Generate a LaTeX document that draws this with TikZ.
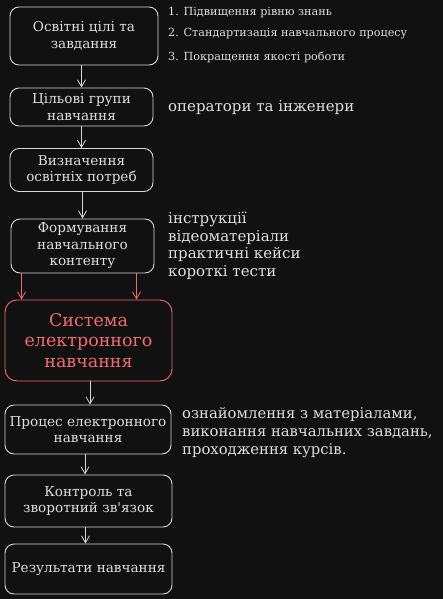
\documentclass[tikz,border=0pt]{standalone}
\usepackage{fontspec}
\setmainfont{DejaVu Serif}
\usetikzlibrary{arrows.meta}
\definecolor{bgdark}{RGB}{17,17,17}
\definecolor{fgline}{RGB}{215,215,215}
\definecolor{fgtext}{RGB}{222,222,222}
\definecolor{sysred}{RGB}{240,108,108}

\tikzset{
  stagebox/.style={draw=fgline, rounded corners=9pt, text=fgtext, align=center,
    line width=0.9pt, inner sep=0pt, font=\fontsize{13.6}{16.5}\selectfont},
  flowarrow/.style={draw=fgline, line width=0.8pt,
    -{Straight Barb[length=7pt,width=8pt]}},
  sidenote/.style={text=fgtext, anchor=west, align=left, inner sep=0pt},
}

\begin{document}
\begin{tikzpicture}[x=1pt, y=-1pt]
  \useasboundingbox (0,0) rectangle (443,599);
  \fill[bgdark] (0,0) rectangle (443,599);

  % main flow
  \node[stagebox, minimum width=148pt, minimum height=58pt] (goals) at (84,36) {Освітні цілі та\\завдання};
  \node[stagebox, minimum width=143pt, minimum height=38pt] (groups) at (81.5,107) {Цільові групи\\навчання};
  \node[stagebox, minimum width=143pt, minimum height=43pt] (needs) at (81.5,170) {Визначення\\освітніх потреб};
  \node[stagebox, minimum width=143pt, minimum height=54pt] (content) at (82.5,246) {Формування\\навчального\\контенту};
  \node[stagebox, draw=sysred, text=sysred, rounded corners=12pt, minimum width=167pt, minimum height=81pt,
        font=\fontsize{17.5}{20.5}\selectfont] (system) at (88.5,340.5) {Система\\електронного\\навчання};
  \node[stagebox, minimum width=166pt, minimum height=49pt] (process) at (88,429.5) {Процес електронного\\навчання};
  \node[stagebox, minimum width=167pt, minimum height=52pt] (control) at (88.5,501) {Контроль та\\зворотний зв\textquotesingle язок};
  \node[stagebox, minimum width=167pt, minimum height=50pt] (results) at (88.5,569) {Результати навчання};

  \draw[flowarrow] (goals.south -| groups.north) -- (groups.north);
  \draw[flowarrow] (groups) -- (needs);
  \draw[flowarrow] (needs.south -| content.north) -- (content.north);
  \draw[flowarrow, draw=sysred] ([xshift=11pt]content.south west) -- ([xshift=11pt]content.south west |- system.north);
  \draw[flowarrow, draw=sysred] ([xshift=-18pt]content.south east) -- ([xshift=-18pt]content.south east |- system.north);
  \draw[flowarrow] ([xshift=1.5pt]system.south) -- ([xshift=1.5pt]system.south |- process.north);
  \draw[flowarrow] ([xshift=-3pt]process.south) -- ([xshift=-3pt]process.south |- control.north);
  \draw[flowarrow] ([xshift=-3pt]control.south) -- ([xshift=-3pt]control.south |- results.north);

  % notes on the right
  \node[sidenote, font=\fontsize{11.2}{13}\selectfont] (aim1) at (168,13) {1. Підвищення рівню знань};
  \node[sidenote, font=\fontsize{11.2}{13}\selectfont] (aim2) at (168,34) {2. Стандартизація навчального процесу};
  \node[sidenote, font=\fontsize{11.2}{13}\selectfont] (aim3) at (168,57) {3. Покращення якості роботи};
  \node[sidenote, font=\fontsize{15}{17.5}\selectfont] (audience) at (168,108) {оператори та інженери};
  \node[sidenote, font=\fontsize{15}{17.5}\selectfont] (materials) at (168,246) {інструкції\\відеоматеріали\\практичні кейси\\короткі тести};
  \node[sidenote, font=\fontsize{14.8}{18}\selectfont] (activities) at (182,433) {ознайомлення з матеріалами,\\виконання навчальних завдань,\\проходження курсів.};
\end{tikzpicture}
\end{document}
